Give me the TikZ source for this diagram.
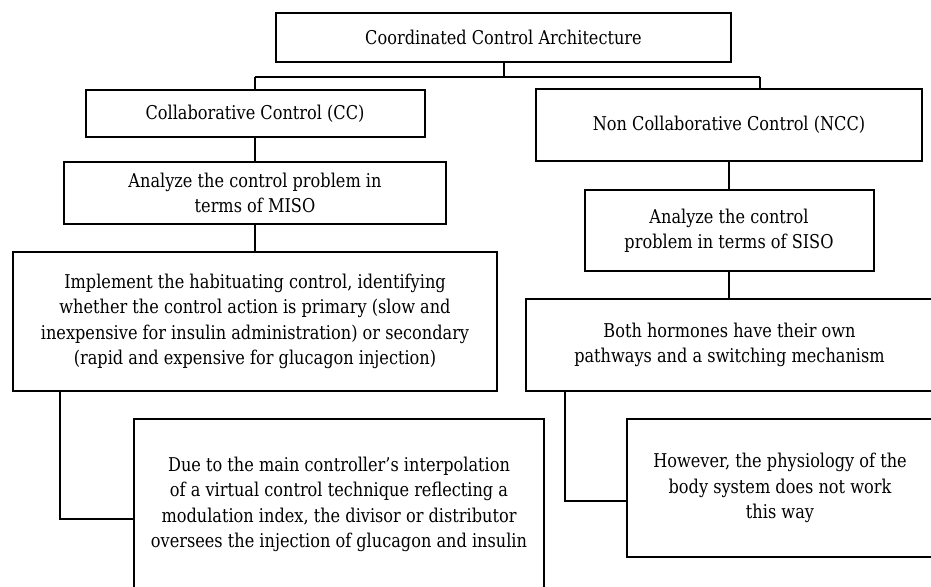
\documentclass[tikz,border=0pt]{standalone}
\usepackage{fontspec}
\setmainfont{DejaVu Serif}[FakeStretch=0.85]
\begin{document}
\begin{tikzpicture}[x=1pt,y=-1pt,
  box/.style={draw=black,line width=2pt,rectangle,inner sep=0pt,align=center,
    font=\fontsize{19}{25.3}\selectfont,text=black},
  conn/.style={draw=black,line width=2pt}]
\useasboundingbox (0,0) rectangle (931,586);
\clip (0,0) rectangle (931,586);
% boxes: centre = midpoint of corners
\node[box,minimum width=455pt,minimum height=49pt] (top) at (503.5,37.5) {Coordinated Control Architecture};
\node[box,minimum width=339pt,minimum height=47pt] (cc) at (255,113.5) {Collaborative Control (CC)};
\node[box,minimum width=386pt,minimum height=72pt] (ncc) at (729,125) {Non Collaborative Control (NCC)};
\node[box,minimum width=382pt,minimum height=62pt] (miso) at (255,193) {Analyze the control problem in\\terms of MISO};
\node[box,minimum width=289pt,minimum height=81pt] (siso) at (729,230.5) {Analyze the control\\problem in terms of SISO};
\node[box,minimum width=484pt,minimum height=139pt] (impl) at (255,321.5) {Implement the habituating control, identifying\\whether the control action is primary (slow and\\inexpensive for insulin administration) or secondary\\(rapid and expensive for glucagon injection)};
\node[box,minimum width=407pt,minimum height=92pt] (both) at (729.5,345) {Both hormones have their own\\pathways and a switching mechanism};
\node[box,minimum width=410pt,minimum height=171pt] (due) at (339,504.5) {Due to the main controller’s interpolation\\of a virtual control technique reflecting a\\modulation index, the divisor or distributor\\oversees the injection of glucagon and insulin};
\node[box,minimum width=306pt,minimum height=138pt] (how) at (780,488) {However, the physiology of the\\body system does not work\\this way};
% connectors
\coordinate (bus) at (0,77);
\coordinate (nccdrop) at (760,77);
\draw[conn] (top.south) -- (top.south |- bus);
\draw[conn] (cc.north |- bus) -- (nccdrop);
\draw[conn] (cc.north |- bus) -- (cc.north);
\draw[conn] (nccdrop) -- (nccdrop |- ncc.north);
\draw[conn] (cc.south) -- (miso.north);
\draw[conn] (miso.south) -- (impl.north);
\draw[conn] (ncc.south) -- (ncc.south |- siso.north);
\draw[conn] (siso.south) -- (siso.south |- both.north);
\draw[conn] ([xshift=48pt]impl.south west) |- ([yshift=-14.5pt]due.west);
\draw[conn] ([xshift=40pt]both.south west) |- ([yshift=-13pt]how.west);
\end{tikzpicture}
\end{document}
